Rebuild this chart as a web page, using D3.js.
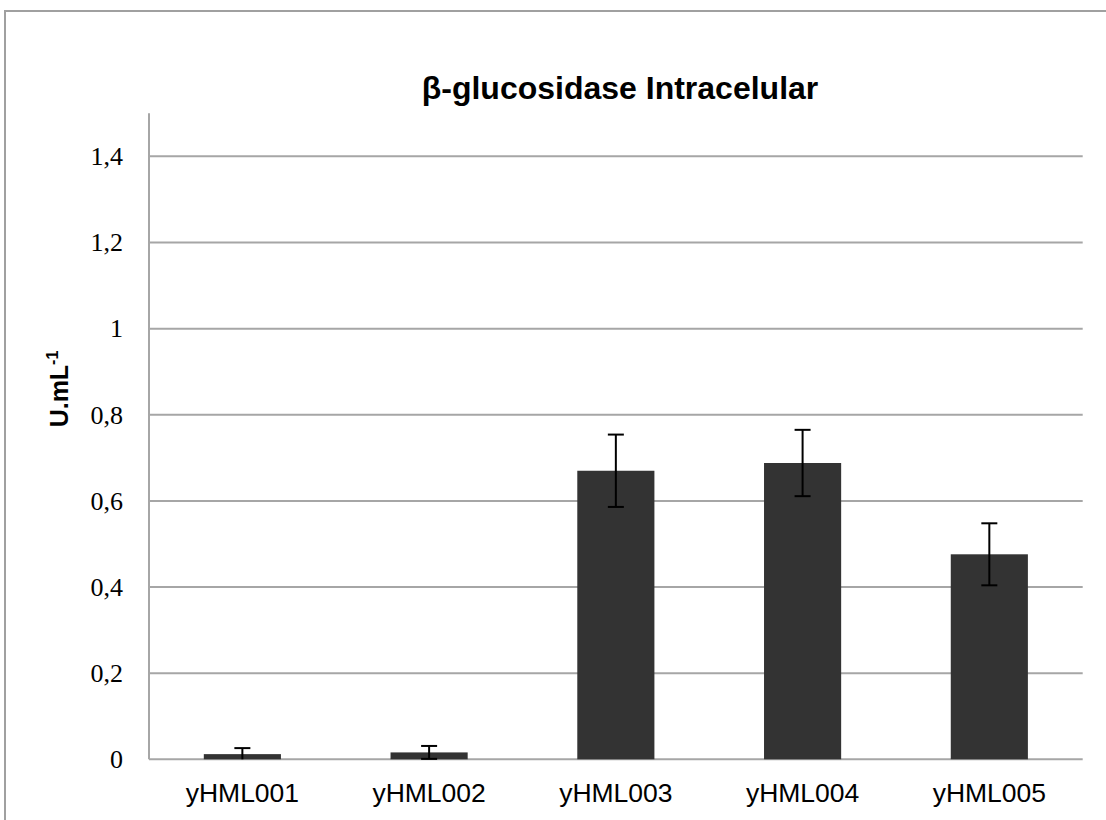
<!DOCTYPE html>
<html>
<head>
<meta charset="utf-8">
<script src="https://cdn.jsdelivr.net/npm/d3@7"></script>
<style>
  html, body { margin: 0; padding: 0; background: #fff; }
  svg { display: block; }
</style>
</head>
<body>
<svg id="chart" width="1106" height="820"></svg>
<script>
const categories = ["yHML001", "yHML002", "yHML003", "yHML004", "yHML005"];
const values = [0.012, 0.016, 0.670, 0.688, 0.476];
const errors = [0.014, 0.015, 0.084, 0.077, 0.072];
const yTicks = [0, 0.2, 0.4, 0.6, 0.8, 1, 1.2, 1.4];
const yTickLabels = ["0", "0,2", "0,4", "0,6", "0,8", "1", "1,2", "1,4"];
const title = "β-glucosidase Intracelular";

const svg = d3.select("#chart");
const W = 1106, H = 820;

// outer frame (top and left visible)
svg.append("path")
  .attr("d", `M5,${H} L5,11 L${W},11`)
  .attr("fill", "none").attr("stroke", "#a0a0a0").attr("stroke-width", 2);

const x0 = 149, x1 = 1082.7, yTop = 113.3, yBot = 759.3;
const x = d3.scaleBand().domain(categories).range([x0, x1]).paddingInner(0.587).paddingOuter(0.2935);
const y = d3.scaleLinear().domain([0, 1.5]).range([yBot, yTop]);

// gridlines
svg.append("g").selectAll("line").data(yTicks.filter(d => d > 0)).join("line")
  .attr("x1", x0).attr("x2", x1)
  .attr("y1", d => y(d)).attr("y2", d => y(d))
  .attr("stroke", "#a6a6a6").attr("stroke-width", 2);

// y axis via d3
const yAxis = d3.axisLeft(y).tickValues(yTicks)
  .tickFormat((d, i) => yTickLabels[i]).tickSize(0).tickPadding(26);
const gy = svg.append("g").attr("transform", `translate(${x0},0)`).call(yAxis);
gy.select(".domain").remove();
gy.selectAll("text")
  .attr("font-family", "'Liberation Serif', 'DejaVu Serif', serif")
  .attr("font-size", 26).attr("fill", "#000");

// axis lines
svg.append("line").attr("x1", x0).attr("x2", x0).attr("y1", yTop).attr("y2", yBot)
  .attr("stroke", "#a6a6a6").attr("stroke-width", 2);
svg.append("line").attr("x1", x0).attr("x2", x1).attr("y1", yBot).attr("y2", yBot)
  .attr("stroke", "#a6a6a6").attr("stroke-width", 2);

// bars
svg.append("g").selectAll("rect").data(categories).join("rect")
  .attr("x", d => x(d)).attr("width", x.bandwidth())
  .attr("y", (d, i) => y(values[i]))
  .attr("height", (d, i) => yBot - y(values[i]))
  .attr("fill", "#333333");

// error bars
const eb = svg.append("g").attr("stroke", "#000").attr("stroke-width", 2);
categories.forEach((c, i) => {
  const cx = x(c) + x.bandwidth() / 2;
  const hi = y(values[i] + errors[i]);
  const lo = y(Math.max(0, values[i] - errors[i]));
  eb.append("line").attr("x1", cx).attr("x2", cx).attr("y1", hi).attr("y2", lo);
  eb.append("line").attr("x1", cx - 8).attr("x2", cx + 8).attr("y1", hi).attr("y2", hi);
  if (values[i] - errors[i] > 0)
    eb.append("line").attr("x1", cx - 8).attr("x2", cx + 8).attr("y1", lo).attr("y2", lo);
});

// x axis labels via d3
const xAxis = d3.axisBottom(x).tickSize(0).tickPadding(0);
const gx = svg.append("g").attr("transform", `translate(0,${yBot})`).call(xAxis);
gx.select(".domain").remove();
gx.selectAll("text")
  .attr("font-family", "'Liberation Sans', Arial, sans-serif")
  .attr("font-size", 26.5).attr("fill", "#000")
  .attr("dy", null).attr("y", 42.5);

// title
svg.append("text").attr("x", 620).attr("y", 99)
  .attr("text-anchor", "middle")
  .attr("font-family", "'Liberation Sans', Arial, sans-serif")
  .attr("font-weight", "bold").attr("font-size", 32).attr("fill", "#000")
  .text(title);

// y axis label
const yl = svg.append("text")
  .attr("transform", "translate(68,389) rotate(-90)")
  .attr("text-anchor", "middle")
  .attr("font-family", "'Liberation Sans', Arial, sans-serif")
  .attr("font-weight", "bold").attr("font-size", 25).attr("fill", "#000");
yl.append("tspan").text("U.mL");
yl.append("tspan").attr("font-size", 16).attr("dy", -10).text("-1");
</script>
</body>
</html>
